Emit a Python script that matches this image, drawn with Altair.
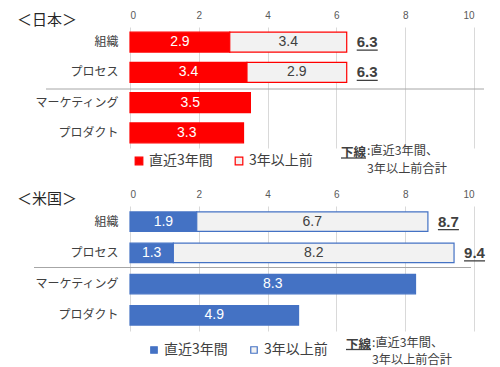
import altair as alt
import pandas as pd

categories = ["組織", "プロセス", "マーケティング", "プロダクト"]
series_names = ["直近3年間", "3年以上前"]
jp_recent = [2.9, 3.4, 3.5, 3.3]
jp_older = [3.4, 2.9, None, None]
us_recent = [1.94, 1.26, 8.3, 4.9]
us_older = [6.72, 8.16, None, None]
x_ticks = [0, 2, 4, 6, 8, 10]
jp_title = "＜日本＞"
us_title = "＜米国＞"
note_head = "下線"
note_body = [":直近3年間、", "\u00a0\u00a03年以上前合計"]

FONT = "Noto Sans CJK JP"
NUMFONT = "Liberation Sans"
TXT = "#404040"
LIGHT = "#F2F2F2"


def build_table(recent, older):
    rows = []
    for i, cat in enumerate(categories):
        rows.append({"cat": cat, "series": series_names[0], "value": recent[i], "order": 0})
        if older[i] is not None:
            rows.append({"cat": cat, "series": series_names[1], "value": older[i], "order": 1})
    return pd.DataFrame(rows)


def build_totals(recent, older):
    rows = []
    for i, cat in enumerate(categories):
        if older[i] is not None:
            rows.append({"cat": cat, "total": recent[i] + older[i]})
    return pd.DataFrame(rows)


def one(text):
    return alt.Chart(pd.DataFrame({"t": [text]}))


def panel(title, recent, older, main, height, pad_inner, legend_x, legend_y,
          sym_size, sep, note):
    df = build_table(recent, older)
    tot = build_totals(recent, older)
    xscale = alt.Scale(domain=[0, 10], nice=False)
    yscale = alt.Scale(paddingInner=pad_inner, paddingOuter=pad_inner / 2)
    ycat = alt.Y("cat:N", sort=categories, title=None, scale=yscale)

    base = alt.Chart(df).transform_stack(
        stack="value", groupby=["cat"], as_=["x0", "x1"], sort=[alt.SortField("order")]
    ).transform_calculate(mid="(datum.x0 + datum.x1) / 2")

    bars = base.mark_bar(stroke=main, strokeWidth=1.2).encode(
        x=alt.X("x0:Q", scale=xscale, title=None,
                axis=alt.Axis(orient="top", values=x_ticks, format="d", domain=False,
                              ticks=False, grid=True, gridColor="#D9D9D9",
                              labelFont=NUMFONT, labelFontSize=10,
                              labelColor="#595959", labelPadding=7)),
        x2="x1:Q",
        y=alt.Y("cat:N", sort=categories, title=None, scale=yscale,
                axis=alt.Axis(domain=False, ticks=False, labelFontSize=12,
                              labelColor=TXT, labelPadding=12)),
        fill=alt.Fill("series:N", sort=series_names,
                      scale=alt.Scale(domain=series_names, range=[main, LIGHT]),
                      legend=alt.Legend(title=None, orient="none", legendX=legend_x,
                                        legendY=legend_y, direction="horizontal",
                                        symbolType="square", symbolSize=sym_size,
                                        symbolStrokeWidth=1.2, labelFontSize=14,
                                        labelColor=TXT, columnPadding=19,
                                        labelOffset=3, padding=0)),
    )

    labels = base.mark_text(fontSize=14, font=NUMFONT).encode(
        x=alt.X("mid:Q", scale=xscale, title=None),
        y=ycat,
        text=alt.Text("value:Q", format=".1f"),
        color=alt.condition(alt.datum.series == series_names[0],
                            alt.value("white"), alt.value(TXT)),
    )

    tot_text = alt.Chart(tot).mark_text(align="left", dx=10, fontSize=15, font=NUMFONT,
                                        fontWeight="bold", color=TXT).encode(
        x=alt.X("total:Q", scale=xscale, title=None),
        y=ycat,
        text=alt.Text("total:Q", format=".1f"),
    )
    tot_line = alt.Chart(tot).mark_rule(color=TXT, strokeWidth=1.3, xOffset=10,
                                        x2Offset=31, yOffset=8).encode(
        x=alt.X("total:Q", scale=xscale, title=None),
        x2="total:Q",
        y=ycat,
    )

    ttl = one(title).mark_text(align="left", baseline="middle", fontSize=15,
                               color="#262626").encode(
        x=alt.value(-113), y=alt.value(-7), text="t:N")

    sep_rule = one("s").mark_rule(color="#A6A6A6", strokeWidth=1).encode(
        x=alt.value(sep[0]), x2=alt.value(sep[1]), y=alt.value(sep[2]))

    nx, ny = note
    n_head = one(note_head).mark_text(align="left", baseline="middle", fontSize=12.5,
                                      fontWeight="bold", color=TXT).encode(
        x=alt.value(nx), y=alt.value(ny), text="t:N")
    n_under = one("u").mark_rule(color=TXT, strokeWidth=1.3).encode(
        x=alt.value(nx), x2=alt.value(nx + 25), y=alt.value(ny + 5))
    n_body = alt.Chart(pd.DataFrame({"t": [note_body]})).mark_text(
        align="left", baseline="top", fontSize=12.2, lineHeight=17.7, color=TXT
    ).encode(x=alt.value(nx + 26), y=alt.value(ny - 8), text="t")

    return alt.layer(bars, labels, tot_text, tot_line, ttl, sep_rule,
                     n_head, n_under, n_body).properties(width=344, height=height)


top = panel(jp_title, jp_recent, jp_older, "#FF0000", 121, 0.34, 2, 127, 58,
            (-84, 354, 62), (211, 126))
bottom = panel(us_title, us_recent, us_older, "#4472C4", 125, 0.38, 17, 137, 42,
               (-96, 341, 61.5), (216, 138.5))

chart = alt.vconcat(top, bottom, spacing=14).resolve_scale(
    fill="independent"
).properties(
    padding={"left": 9, "top": 2, "right": 2, "bottom": 0}
).configure(font=FONT).configure_view(stroke=None)

chart.save("out.html", embed_options={"renderer": "svg", "actions": False})
